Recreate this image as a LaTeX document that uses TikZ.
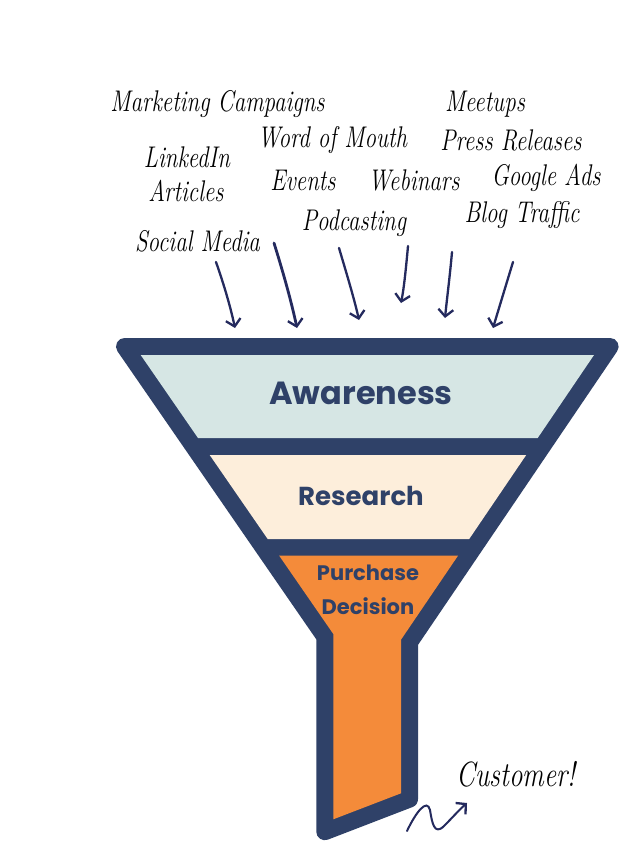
\documentclass[tikz,border=0pt]{standalone}
\usepackage{fontspec}
\usepackage{graphicx}
\newfontfamily\stagefont{Poppins}
\usetikzlibrary{arrows.meta}
\definecolor{navy}{RGB}{47,65,104}
\definecolor{ink}{RGB}{36,42,94}
\definecolor{awarefill}{RGB}{214,230,228}
\definecolor{resfill}{RGB}{253,238,219}
\definecolor{purfill}{RGB}{244,139,58}
\newcommand{\hw}[1]{\scalebox{1}[1.3]{#1}}
\begin{document}
\begin{tikzpicture}[x=1pt,y=-1pt,
  hand/.style={font=\fontsize{23}{25}\selectfont\itshape, text=black, inner sep=0pt},
  stage/.style={text=navy, inner sep=0pt},
  flow/.style={draw=ink, line width=2.3pt, line cap=round, -{Straight Barb[length=7pt,width=15pt,line width=2.3pt]}},
  funnelline/.style={draw=navy, fill=navy, line width=17pt, line join=round}
]
\useasboundingbox (0,0) rectangle (639,850);
\fill[white] (0,0) rectangle (639,850);

% funnel body
\path[funnelline] (124.5,346.5) -- (610.1,346.5) -- (409.5,642.3) -- (409.5,799.1) -- (324.8,831.7) -- (324.8,636.7) -- cycle;
\fill[awarefill] (140.7,355) -- (594,355) -- (537.7,438) -- (198,438) -- cycle;
\fill[resfill] (209.7,455) -- (526.2,455) -- (469.2,539) -- (267.7,539) -- cycle;
\fill[purfill] (279.2,555.7) -- (458,555.7) -- (401,639.7) -- (401,793.3) -- (333.3,819.3) -- (333.3,634) -- cycle;

% stage labels
\node[stage, font=\stagefont\bfseries\fontsize{32}{34}\selectfont] (aware) at (361,393) {Awareness};
\node[stage, font=\stagefont\bfseries\fontsize{26}{28}\selectfont] (research) at (361,496) {Research};
\node[stage, font=\stagefont\bfseries\fontsize{21}{23}\selectfont] (purchase) at (368,573) {Purchase};
\node[stage, font=\stagefont\bfseries\fontsize{21}{23}\selectfont] (decision) at (368,606) {Decision};

% sources
\node[hand] (mkt) at (217.5,104) {\hw{Marketing Campaigns}};
\node[hand] (meet) at (485,104) {\hw{Meetups}};
\node[hand] (wom) at (332.5,140) {\hw{Word of Mouth}};
\node[hand] (press) at (511,140) {\hw{Press Releases}};
\node[hand] (linked) at (187,157) {\hw{LinkedIn}};
\node[hand] (articles) at (186,191) {\hw{Articles}};
\node[hand] (events) at (303,180) {\hw{Events}};
\node[hand] (webinars) at (414,180) {\hw{Webinars}};
\node[hand] (gads) at (546,178) {\hw{Google Ads}};
\node[hand] (podcast) at (354,223) {\hw{Podcasting}};
\node[hand] (blog) at (522,215) {\hw{Blog Traffic}};
\node[hand] (social) at (197.5,241) {\hw{Social Media}};
\node[hand, font=\fontsize{27}{29}\selectfont\itshape] (cust) at (516,774) {\hw{Customer!}};

% arrows into the funnel
\coordinate (s1) at (216,262); \coordinate (e1) at (235,328);
\coordinate (s2) at (274,243); \coordinate (e2) at (297,328);
\coordinate (s3) at (339,248); \coordinate (e3) at (359,320);
\coordinate (s4) at (408,246); \coordinate (e4) at (401,303);
\coordinate (s5) at (452,252); \coordinate (e5) at (445,318);
\coordinate (s6) at (513,262); \coordinate (e6) at (493,328);
\draw[flow] (s1) .. controls (224,285) and (230,305) .. (e1);
\draw[flow, line width=2.8pt] (s2) .. controls (283,272) and (291,300) .. (e2);
\draw[flow] (s3) .. controls (347,275) and (354,298) .. (e3);
\draw[flow] (s4) .. controls (406,268) and (404,288) .. (e4);
\draw[flow] (s5) .. controls (450,275) and (447,298) .. (e5);
\draw[flow] (s6) .. controls (506,285) and (499,308) .. (e6);

% squiggle to customer
\coordinate (q0) at (407,831);
\coordinate (q1) at (467,803);
\draw[flow, line width=2pt] (q0) .. controls (416,812) and (427,798) .. (430,810)
  .. controls (432,822) and (434,836) .. (444,826)
  .. controls (452,818) and (459,810) .. (q1);
\end{tikzpicture}
\end{document}
